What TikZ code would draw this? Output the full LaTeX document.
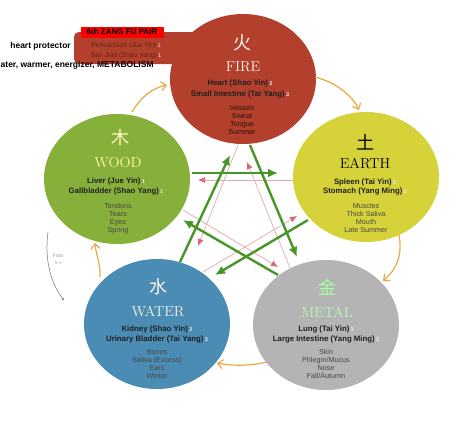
\documentclass[tikz,border=0pt]{standalone}
\usepackage{fontspec}
\setsansfont{Liberation Sans}
\newfontfamily\cjk{Noto Sans CJK SC}
\newfontfamily\symfont{DejaVu Sans}
\usetikzlibrary{shapes.geometric,arrows.meta}
\definecolor{fireC}{RGB}{178,64,44}
\definecolor{woodC}{RGB}{134,176,58}
\definecolor{earthC}{RGB}{214,210,58}
\definecolor{waterC}{RGB}{74,140,180}
\definecolor{metalC}{RGB}{180,180,180}
\definecolor{orangeC}{RGB}{232,168,70}
\definecolor{greenA}{RGB}{72,150,40}
\definecolor{pinkL}{RGB}{222,172,178}
\definecolor{pinkT}{RGB}{222,100,112}
\definecolor{digitC}{RGB}{235,235,235}
\newcommand{\orgnum}[1]{\,{\fontsize{5.5}{5.5}\selectfont\textcolor{digitC}{#1}}}
\begin{document}
\begin{tikzpicture}[x=1pt,y=-1pt,font=\sffamily,
  elem/.style={ellipse,minimum width=146pt,minimum height=130pt,inner sep=0pt},
  chr/.style={font=\cjk\fontsize{18}{18}\selectfont,inner sep=0pt},
  ename/.style={font=\rmfamily\fontsize{14.5}{14.5}\selectfont\addfontfeature{LetterSpace=12},inner sep=0pt},
  organ/.style={font=\sffamily\bfseries\fontsize{7.8}{7.8}\selectfont,inner sep=0pt,text=black!88},
  attr/.style={font=\sffamily\fontsize{7.2}{8}\selectfont,inner sep=0pt,align=center,text=black!72},
  sheng/.style={draw=orangeC,line width=1.2pt,-{Straight Barb[length=5pt,width=9pt]}},
  kegreen/.style={draw=greenA,line width=2.4pt,-{Latex[length=10pt,width=9pt]}},
  kepink/.style={draw=pinkL,line width=0.7pt,-{Latex[length=7pt,width=6pt,color=pinkT]}},
  lbl/.style={font=\sffamily\bfseries\fontsize{8.5}{8.5}\selectfont,inner sep=0pt,text=black}
]
\path[use as bounding box,fill=white] (0,0) rectangle (474,445);

% pericardium box
\fill[fireC,rounded corners=5pt] (74,32) rectangle (200,64);

% circles
\node[elem,fill=fireC]  (fire)  at (243,79)  {};
\node[elem,fill=woodC]  (wood)  at (117,179) {};
\node[elem,fill=earthC] (earth) at (366,177) {};
\node[elem,fill=waterC] (water) at (157,324) {};
\node[elem,fill=metalC] (metal) at (326,325) {};

% FIRE
\node[chr,text=white!92!orange] (firechr) at (242,43) {火};
\node[ename,text=white!90!orange] (firename) at (243,67) {FIRE};
\node[organ] (fireo1) at (240,83) {Heart (Shao Yin)\orgnum{2}};
\node[organ] (fireo2) at (240,94) {Small Intestine (Tai Yang)\orgnum{3}};
\node[attr,text=black!75!fireC,anchor=north] (firea) at (242,105) {Vessels\\Sweat\\Tongue\\Summer};

% WOOD
\node[chr,text=yellow!25!white] (woodchr) at (120,138) {木};
\node[ename,text=yellow!35!white] (woodname) at (118,163) {WOOD};
\node[organ] (woodo1) at (116,181) {Liver (Jue Yin)\orgnum{1}};
\node[organ] (woodo2) at (116,191) {Gallbladder (Shao Yang)\orgnum{1}};
\node[attr,anchor=north] (wooda) at (118,203) {Tendons\\Tears\\Eyes\\Spring};

% EARTH
\node[chr,text=black] (earthchr) at (365,142) {土};
\node[ename,text=black] (earthname) at (365,163) {EARTH};
\node[organ] (eartho1) at (365,182) {Spleen (Tai Yin)\orgnum{3}};
\node[organ] (eartho2) at (365,191) {Stomach (Yang Ming)\orgnum{2}};
\node[attr,anchor=north] (eartha) at (366,203) {Muscles\\Thick Saliva\\Mouth\\Late Summer};

% WATER
\node[chr,text=white!92!orange] (waterchr) at (158,287) {水};
\node[ename,text=white!90!orange] (watername) at (158,311) {WATER};
\node[organ] (watero1) at (157,329) {Kidney (Shao Yin)\orgnum{2}};
\node[organ] (watero2) at (157,339) {Urinary Bladder (Tai Yang)\orgnum{3}};
\node[attr,anchor=north] (watera) at (157,349) {Bones\\Saliva (Excess)\\Ears\\Winter};

% METAL
\node[chr,text=green!35!white] (metalchr) at (327,287) {金};
\node[ename,text=green!30!white] (metalname) at (327,312) {METAL};
\node[organ] (metalo1) at (326,329) {Lung (Tai Yin)\orgnum{3}};
\node[organ] (metalo2) at (326,339) {Large Intestine (Yang Ming)\orgnum{2}};
\node[attr,anchor=north] (metala) at (326,349) {Skin\\Phlegm/Mucus\\Nose\\Fall/Autumn};

% sheng cycle (orange)
\coordinate (wf1) at (132,112); \coordinate (wf2) at (167,85);
\coordinate (fe1) at (315,77);  \coordinate (fe2) at (359,110);
\coordinate (em1) at (399,235); \coordinate (em2) at (383,281);
\coordinate (mw1) at (267,362); \coordinate (mw2) at (217,363);
\coordinate (ww1) at (100,277); \coordinate (ww2) at (95,243);
\draw[sheng] (wf1) .. controls (140,98) and (152,88) .. (wf2);
\draw[sheng] (fe1) .. controls (335,82) and (352,95) .. (fe2);
\draw[sheng] (em1) .. controls (403,255) and (396,270) .. (em2);
\draw[sheng] (mw1) .. controls (250,366) and (232,366) .. (mw2);
\draw[sheng] (ww1) .. controls (101,265) and (96,255) .. (ww2);

% ke cycle pink
\coordinate (p1a) at (293,180); \coordinate (p1b) at (198,180);
\coordinate (p2a) at (238,145); \coordinate (p2b) at (198,246);
\coordinate (p3a) at (290,268); \coordinate (p3b) at (247,162);
\coordinate (p4a) at (203,272); \coordinate (p4b) at (297,216);
\coordinate (p5a) at (183,210); \coordinate (p5b) at (278,267);
\draw[kepink] (p1a) -- (p1b);
\draw[kepink] (p2a) -- (p2b);
\draw[kepink] (p3a) -- (p3b);
\draw[kepink] (p4a) -- (p4b);
\draw[kepink] (p5a) -- (p5b);

% ke cycle green
\coordinate (g1a) at (192,173); \coordinate (g1b) at (278,173);
\coordinate (g2a) at (180,262); \coordinate (g2b) at (230,155);
\coordinate (g3a) at (250,145); \coordinate (g3b) at (297,257);
\coordinate (g4a) at (308,220); \coordinate (g4b) at (215,275);
\coordinate (g5a) at (278,275); \coordinate (g5b) at (183,220);
\draw[kegreen] (g1a) -- (g1b);
\draw[kegreen] (g2a) -- (g2b);
\draw[kegreen] (g3a) -- (g3b);
\draw[kegreen] (g4a) -- (g4b);
\draw[kegreen] (g5a) -- (g5b);

% foot arc
\coordinate (ft1) at (48,232); \coordinate (ft2) at (63,299);
\draw[black!55,line width=0.5pt] (ft1) .. controls (44,262) and (52,285) .. (ft2);
\fill[black!60] (ft2) circle (1pt);
\node[font=\sffamily\fontsize{5}{5}\selectfont,text=black!40,inner sep=0pt] (foot) at (58,256) {Foot};
\node[font=\symfont\fontsize{4.5}{4.5}\selectfont,text=black!40,inner sep=0pt] (footn) at (58,263) {1→};

% top-left labels
\node[lbl,fill=red,minimum width=83pt,minimum height=11pt,font=\sffamily\bfseries\fontsize{8}{8}\selectfont] (zangfu) at (122,32) {6th ZANG FU PAIR};
\node[font=\sffamily\fontsize{6.8}{6.8}\selectfont,text=fireC!55!black,inner sep=0pt] (peri) at (126,46) {Pericardium (Jue Yin)\orgnum{1}};
\node[font=\sffamily\fontsize{6.8}{6.8}\selectfont,text=fireC!55!black,inner sep=0pt] (sanjiao) at (126,56) {San Jiao (Shao Yang)\orgnum{1}};
\node[lbl,anchor=east] (heartp) at (71,46) {heart protector};
\node[lbl,anchor=west] (metab) at (0.5,65) {ater, warmer, energizer, METABOLISM};
\end{tikzpicture}
\end{document}
